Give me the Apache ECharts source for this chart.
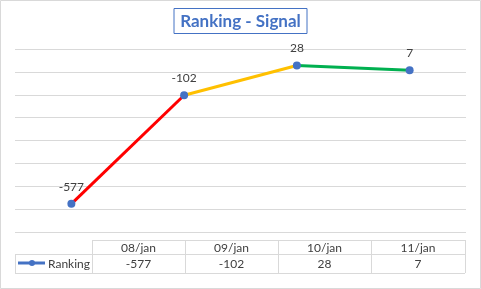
<!DOCTYPE html>
<html>
<head>
<meta charset="utf-8">
<script src="https://cdn.jsdelivr.net/npm/echarts@6/dist/echarts.min.js"></script>
<style>
  html, body { margin: 0; padding: 0; background: #fff; }
  #chart { width: 481px; height: 289px; }
</style>
</head>
<body>
<div id="chart"></div>
<script>
// data
const categories = ['08/jan', '09/jan', '10/jan', '11/jan'];
const ranking = [-577, -102, 28, 7];
const segmentColors = ['#FF0000', '#FFC000', '#00B050'];
const seriesName = 'Ranking';

const font = 'Lato, "Open Sans", sans-serif';

// one line series per segment, so each piece gets its own colour
const segments = segmentColors.map((c, i) => ({
  type: 'line',
  data: ranking.map((v, j) => (j === i || j === i + 1) ? v : '-'),
  symbol: 'none',
  lineStyle: { color: c, width: 3 },
  z: 2,
  silent: true
}));

// data table under the plot
const colX = [92, 185, 278, 371, 465];
const tableTop = 240, rowMid = 254, tableBot = 273;
const tableEls = [];
const lineStyle = { stroke: '#D9D9D9', lineWidth: 1 };
tableEls.push({ type: 'line', shape: { x1: colX[0], y1: tableTop + 0.5, x2: colX[4], y2: tableTop + 0.5 }, style: lineStyle });
tableEls.push({ type: 'line', shape: { x1: 15, y1: rowMid + 0.5, x2: colX[4], y2: rowMid + 0.5 }, style: lineStyle });
tableEls.push({ type: 'line', shape: { x1: 15, y1: tableBot + 0.5, x2: colX[4], y2: tableBot + 0.5 }, style: lineStyle });
tableEls.push({ type: 'line', shape: { x1: 15.5, y1: rowMid, x2: 15.5, y2: tableBot }, style: lineStyle });
colX.forEach(x => {
  tableEls.push({ type: 'line', shape: { x1: x + 0.5, y1: tableTop, x2: x + 0.5, y2: tableBot }, style: lineStyle });
});
categories.forEach((c, i) => {
  const cx = (colX[i] + colX[i + 1]) / 2;
  tableEls.push({ type: 'text', x: cx, y: (tableTop + rowMid) / 2 + 1, style: { text: c, align: 'center', verticalAlign: 'middle', font: '12px ' + font, fill: '#404040' } });
  tableEls.push({ type: 'text', x: cx, y: (rowMid + tableBot) / 2 + 1, style: { text: String(ranking[i]), align: 'center', verticalAlign: 'middle', font: '12px ' + font, fill: '#404040' } });
});
// legend key
tableEls.push({ type: 'line', shape: { x1: 18, y1: 263, x2: 45, y2: 263 }, style: { stroke: '#4472C4', lineWidth: 3 } });
tableEls.push({ type: 'circle', shape: { cx: 32, cy: 263, r: 3 }, style: { fill: '#4472C4' } });
tableEls.push({ type: 'text', x: 48, y: 264, style: { text: seriesName, verticalAlign: 'middle', font: '12px ' + font, fill: '#404040' } });
// chart border
tableEls.push({ type: 'rect', shape: { x: 0.5, y: 0.5, width: 480, height: 288 }, style: { fill: 'none', stroke: '#D9D9D9', lineWidth: 1 } });

const chart = echarts.init(document.getElementById('chart'));
chart.setOption({
  animation: false,
  title: {
    text: 'Ranking - Signal',
    left: 'center',
    top: 8,
    padding: [5, 6, 4, 6],
    borderColor: '#4472C4',
    borderWidth: 1,
    textStyle: { color: '#4472C4', fontSize: 17, fontWeight: 'bold', fontFamily: font }
  },
  grid: { left: 15, right: 15, top: 49, bottom: 57 },
  xAxis: {
    type: 'category',
    data: categories,
    axisLine: { show: false },
    axisTick: { show: false },
    axisLabel: { show: false }
  },
  yAxis: {
    type: 'value',
    min: -700,
    max: 100,
    interval: 100,
    axisLabel: { show: false },
    splitLine: { lineStyle: { color: '#D9D9D9' } }
  },
  series: segments.concat([{
    name: seriesName,
    type: 'line',
    data: ranking,
    symbol: 'circle',
    symbolSize: 8,
    itemStyle: { color: '#4472C4' },
    lineStyle: { width: 0 },
    z: 3,
    label: { show: true, position: 'top', distance: 7, color: '#404040', fontSize: 12, fontFamily: font }
  }]),
  graphic: tableEls
});
</script>
</body>
</html>
